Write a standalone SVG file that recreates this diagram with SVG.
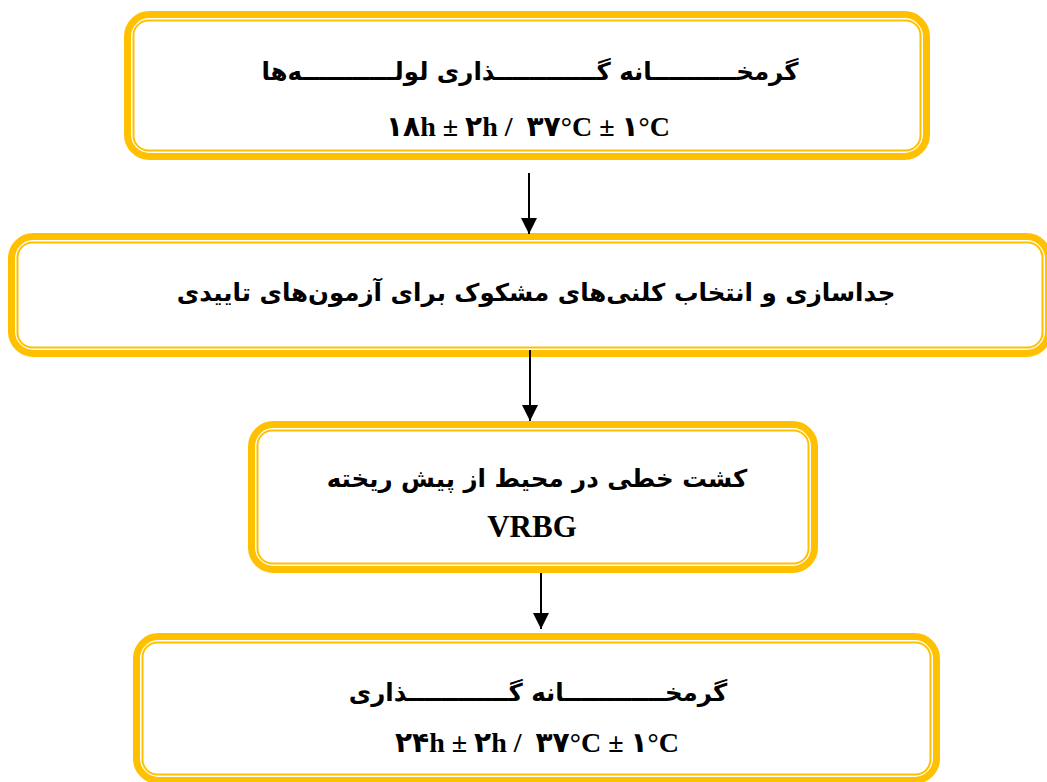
<svg xmlns="http://www.w3.org/2000/svg" width="1047" height="782" viewBox="0 0 1047 782">
<style>
.outer{fill:#fff;stroke:#FFC000;stroke-width:7}
.inner{fill:none;stroke:#FFC000;stroke-width:2}
.t{font-family:"Liberation Serif","DejaVu Sans",serif;font-weight:bold;font-size:28px;fill:#000;text-anchor:middle}
.fa{font-family:"DejaVu Sans","Noto Sans",sans-serif;font-weight:bold;font-size:24.5px;fill:#000;text-anchor:middle}
.conn{stroke:#000;stroke-width:2;fill:none}
</style>
<defs>
<marker id="ah" markerWidth="16" markerHeight="16" refX="16" refY="8" orient="auto" markerUnits="userSpaceOnUse" viewBox="0 0 16 16">
<path d="M0,0 L16,8 L0,16 Z" fill="#000"/>
</marker>
</defs>
<rect width="1047" height="782" fill="#fff"/>
<g id="node1">
<rect class="outer" x="127.5" y="14.5" width="799" height="142" rx="22"/>
<rect class="inner" x="133.5" y="20.5" width="787" height="130" rx="15"/>
<text class="fa" x="530" y="80" direction="rtl">گرمخــــــــــانه گــــــــــــذاری لولـــــــــــه&#8204;ها</text>
<text class="t" x="528" y="136" direction="ltr" xml:space="preserve">۱۸h ± ۲h /  ۳۷°C ± ۱°C</text>
</g>
<g id="node2">
<rect class="outer" x="11.5" y="236.5" width="1037" height="117" rx="22"/>
<rect class="inner" x="17.5" y="242.5" width="1025" height="105" rx="15"/>
<text class="fa" x="536" y="301" direction="rtl">جداسازی و انتخاب کلنی&#8204;های مشکوک برای آزمون&#8204;های تاییدی</text>
</g>
<g id="node3">
<rect class="outer" x="251.5" y="424.5" width="563" height="145" rx="22"/>
<rect class="inner" x="257.5" y="430.5" width="551" height="133" rx="15"/>
<text class="fa" x="537" y="487" direction="rtl">کشت خطی در محیط از پیش ریخته</text>
<text class="t" x="532" y="537" style="font-size:31px">VRBG</text>
</g>
<g id="node4">
<rect class="outer" x="136.5" y="636.5" width="800" height="144" rx="22"/>
<rect class="inner" x="142.5" y="642.5" width="788" height="132" rx="15"/>
<text class="fa" x="538" y="701" direction="rtl">گرمخــــــــــــانه گــــــــــــذاری</text>
<text class="t" x="537" y="752" direction="ltr" xml:space="preserve">۲۴h ± ۲h /  ۳۷°C ± ۱°C</text>
</g>
<g id="connectors">
<line class="conn" x1="529" y1="173" x2="529" y2="234" marker-end="url(#ah)"/>
<line class="conn" x1="530" y1="350" x2="530" y2="421" marker-end="url(#ah)"/>
<line class="conn" x1="541" y1="573" x2="541" y2="629" marker-end="url(#ah)"/>
</g>
</svg>
